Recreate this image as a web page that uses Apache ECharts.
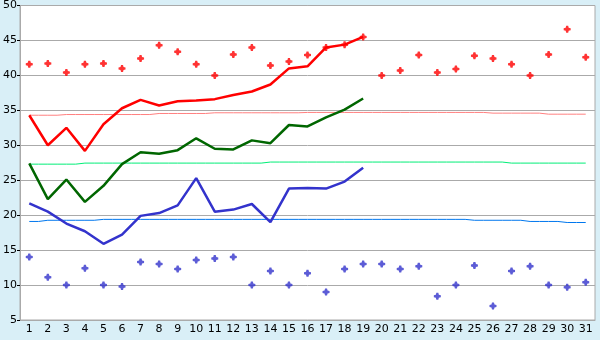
<!DOCTYPE html>
<html lang="en">
<head>
    <meta charset="UTF-8">
    <title>Chart</title>
    <script src="https://cdn.jsdelivr.net/npm/echarts@6/dist/echarts.min.js"></script>
    <style>
        html, body { margin: 0; padding: 0; background: #d9eff7; }
        #main { width: 600px; height: 340px; }
    </style>
</head>
<body>
    <div id="main"></div>
    <script>
        var days = [];
        for (var d = 1; d <= 31; d++) days.push(String(d));

        var yTicks = { min: 5, max: 50, step: 5 };

        // thick lines (days 1-19)
        var redLine = [34.3, 30.0, 32.5, 29.2, 33.0, 35.3, 36.5, 35.7, 36.3, 36.4, 36.6, 37.2, 37.7, 38.7, 41.0, 41.3, 44.0, 44.4, 45.5];
        var greenLine = [27.4, 22.3, 25.1, 21.9, 24.2, 27.3, 29.0, 28.8, 29.3, 31.0, 29.5, 29.4, 30.7, 30.3, 32.9, 32.7, 34.0, 35.1, 36.7];
        var blueLine = [21.7, 20.5, 18.8, 17.7, 15.9, 17.2, 19.9, 20.3, 21.4, 25.3, 20.5, 20.8, 21.6, 19.0, 23.8, 23.9, 23.8, 24.8, 26.8];

        // scattered points
        var redDots = [41.6, 41.7, 40.4, 41.6, 41.7, 41.0, 42.4, 44.3, 43.4, 41.6, 40.0, 43.0, 44.0, 41.4, 42.0, 42.9,
                       44.0, 44.4, 45.5, 40.0, 40.7, 42.9, 40.4, 40.9, 42.8, 42.4, 41.6, 40.0, 43.0, 46.6, 42.6];
        var blueDots = [14.0, 11.1, 10.0, 12.4, 10.0, 9.8, 13.3, 13.0, 12.3, 13.6, 13.8, 14.0, 10.0, 12.0, 10.0, 11.7,
                        9.0, 12.3, 13.0, 13.0, 12.3, 12.7, 8.4, 10.0, 12.8, 7.0, 12.0, 12.7, 10.0, 9.7, 10.4];

        // thin reference lines
        var redNorm = [34.3, 34.3, 34.4, 34.4, 34.4, 34.4, 34.4, 34.55, 34.55, 34.55, 34.65, 34.65, 34.65, 34.65, 34.65, 34.7,
                       34.7, 34.7, 34.7, 34.7, 34.7, 34.7, 34.7, 34.7, 34.7, 34.6, 34.6, 34.6, 34.45, 34.45, 34.45];
        var greenNorm = [27.3, 27.3, 27.3, 27.45, 27.45, 27.45, 27.45, 27.45, 27.45, 27.45, 27.45, 27.45, 27.45, 27.6, 27.6, 27.6,
                         27.6, 27.6, 27.6, 27.6, 27.6, 27.6, 27.6, 27.6, 27.6, 27.6, 27.45, 27.45, 27.45, 27.45, 27.45];
        var blueNorm = [19.1, 19.27, 19.27, 19.27, 19.4, 19.4, 19.4, 19.4, 19.4, 19.4, 19.4, 19.4, 19.4, 19.4, 19.4, 19.4,
                        19.4, 19.4, 19.4, 19.4, 19.4, 19.4, 19.4, 19.4, 19.27, 19.27, 19.27, 19.1, 19.1, 18.95, 18.95];

        // small chunky cross marker
        var starMark = 'path://M2.5,0H4.5L5,2L7,2.5V4.5L5,5L4.5,7H2.5L2,5L0,4.5V2.5L2,2Z';

        function normSeries(data, color) {
            return { type: 'line', data: data, step: 'middle', symbol: 'none', silent: true,
                     lineStyle: { color: color, width: 1 }, z: 1 };
        }
        function thickSeries(data, color) {
            return { type: 'line', data: data, symbol: 'none', silent: true,
                     lineStyle: { color: color, width: 2.5 }, z: 3 };
        }
        function dotSeries(data, color) {
            return { type: 'scatter', data: data, symbol: starMark, symbolSize: 7, silent: true,
                     itemStyle: { color: color }, z: 4 };
        }

        var myChart = echarts.init(document.getElementById('main'));
        var option = {
            backgroundColor: '#d9eff7',
            animation: false,
            textStyle: { fontFamily: 'DejaVu Sans' },
            grid: { left: 20, right: 5, top: 5, bottom: 20, show: true,
                    backgroundColor: '#ffffff', borderColor: '#aaaaaa', borderWidth: 1 },
            xAxis: {
                type: 'category', data: days, boundaryGap: true,
                axisLine: { lineStyle: { color: '#aaaaaa' } },
                axisTick: { alignWithLabel: true, length: 5, lineStyle: { color: '#000' } },
                axisLabel: { color: '#000', fontSize: 11, margin: 4, interval: 0 },
                splitLine: { show: false }
            },
            yAxis: {
                type: 'value', min: yTicks.min, max: yTicks.max, interval: yTicks.step,
                axisLine: { show: true, lineStyle: { color: '#aaaaaa' } },
                axisTick: { show: true, length: 3, lineStyle: { color: '#000' } },
                axisLabel: { color: '#000', fontSize: 11, margin: 3 },
                splitLine: { lineStyle: { color: '#aaaaaa' } }
            },
            series: [
                normSeries(redNorm, '#ff8080'),
                normSeries(greenNorm, '#00ee77'),
                normSeries(blueNorm, '#0077ee'),
                thickSeries(redLine, '#ff0000'),
                thickSeries(greenLine, '#006600'),
                thickSeries(blueLine, '#3333cc'),
                dotSeries(redDots, '#ff0000'),
                dotSeries(blueDots, '#3333cc')
            ]
        };
        myChart.setOption(option);
    </script>
</body>
</html>
